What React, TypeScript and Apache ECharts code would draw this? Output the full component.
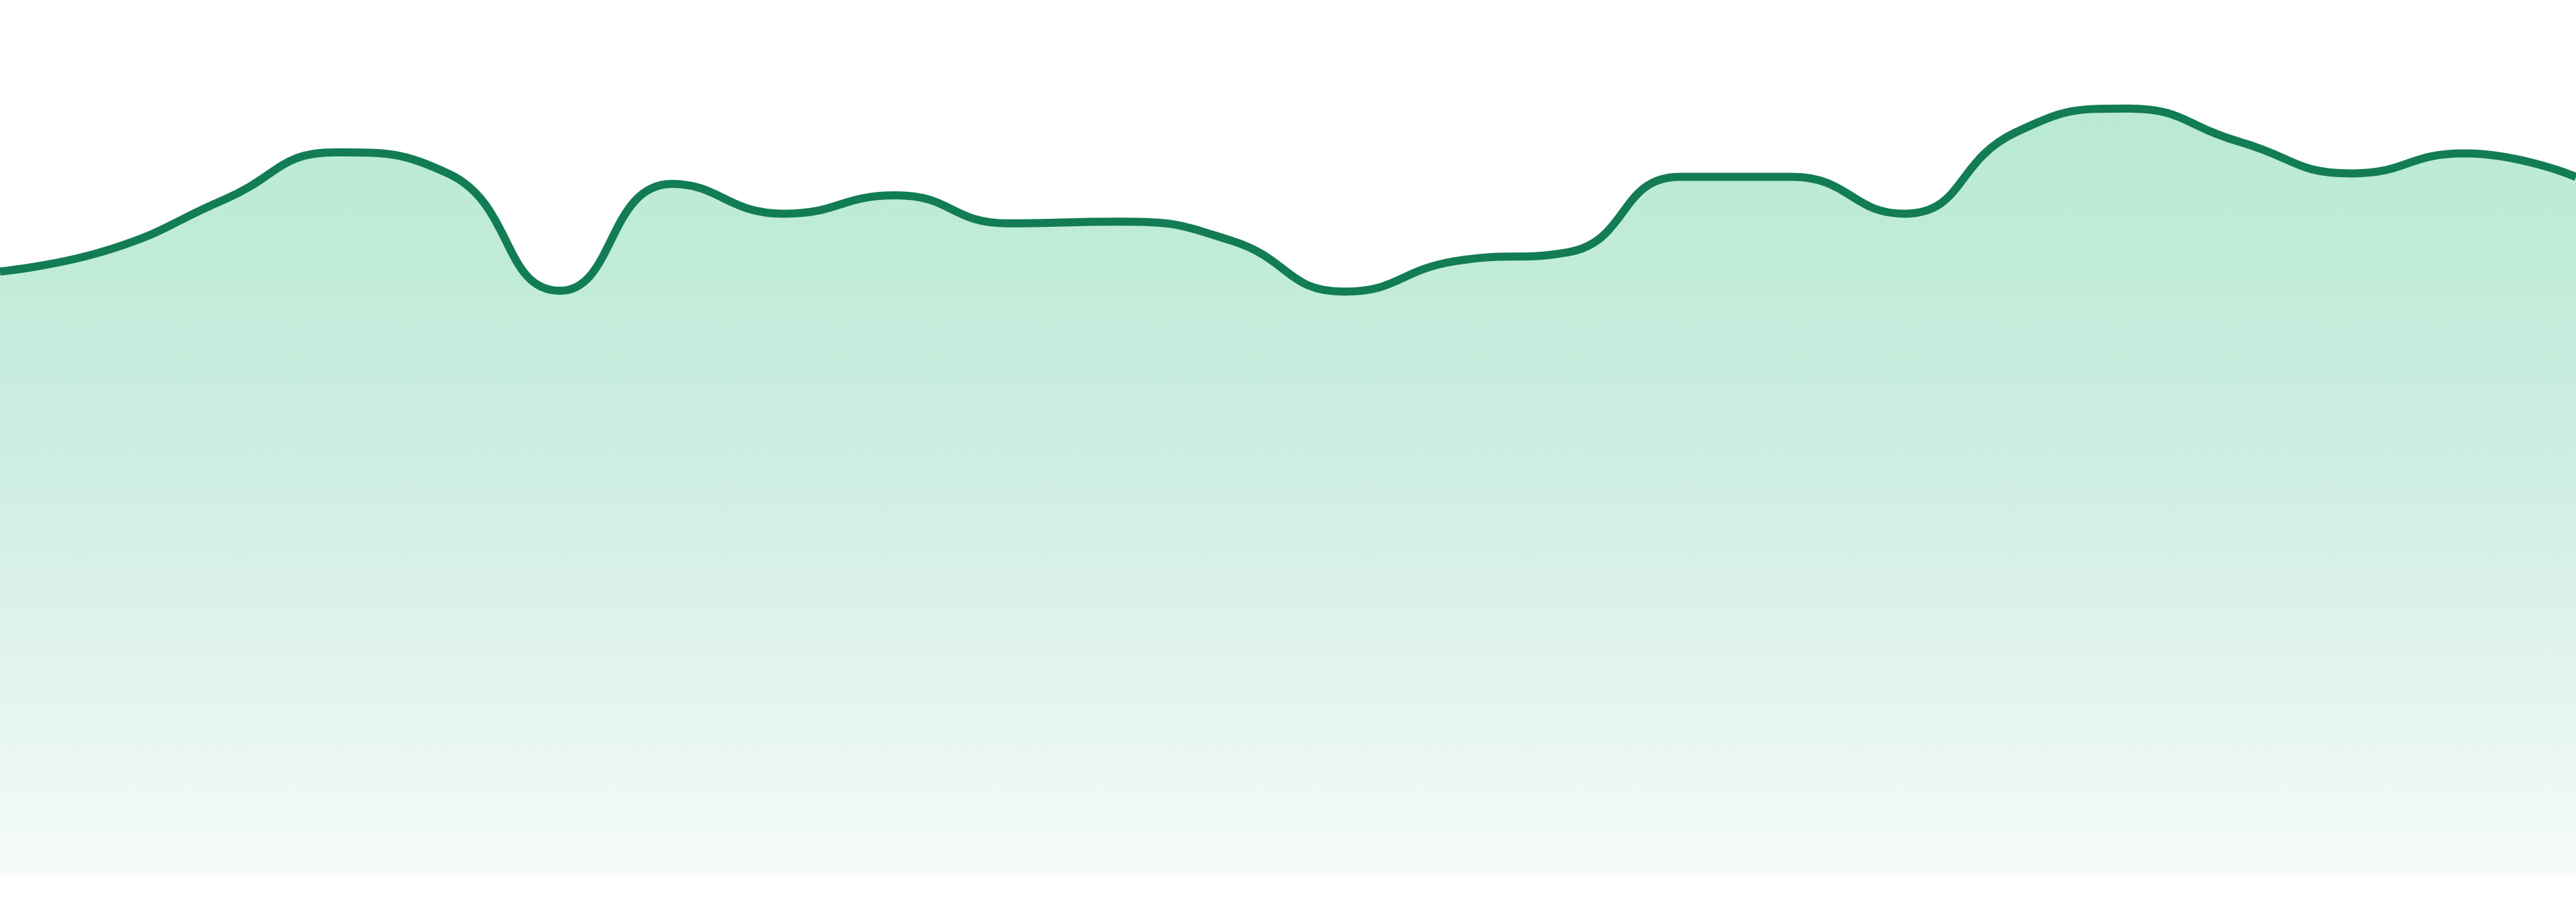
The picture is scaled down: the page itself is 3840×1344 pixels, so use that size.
import {useEffect, useRef} from 'react';
import * as echarts from 'echarts';

// 24 hourly samples
const hours: string[] = [
    '00:00', '01:00', '02:00', '03:00', '04:00', '05:00', '06:00', '07:00',
    '08:00', '09:00', '10:00', '11:00', '12:00', '13:00', '14:00', '15:00',
    '16:00', '17:00', '18:00', '19:00', '20:00', '21:00', '22:00', '23:00'
];
const values: number[] = [
    69.0, 71.6, 77.2, 82.6, 80.2, 66.8, 79.0, 75.6,
    77.7, 74.5, 74.7, 72.5, 66.7, 70.2, 71.2, 79.8,
    79.8, 75.6, 84.9, 87.6, 83.8, 80.2, 82.5, 79.8
];
const yMin = 0;
const yMax = 100;

const LINE_COLOR = '#127c55';

export default function App() {
    const ref = useRef<HTMLDivElement | null>(null);

    useEffect(() => {
        document.body.style.margin = '0';
        if (!ref.current) return;
        const chart = echarts.init(ref.current, undefined, {renderer: 'svg'});
        chart.setOption({
            animation: false,
            backgroundColor: '#ffffff',
            grid: {left: 0, right: 0, top: 0, bottom: 39, containLabel: false},
            tooltip: {show: false},
            xAxis: {
                type: 'category',
                data: hours,
                boundaryGap: false,
                show: false
            },
            yAxis: {
                type: 'value',
                min: yMin,
                max: yMax,
                show: false
            },
            series: [
                {
                    type: 'line',
                    data: values,
                    smooth: true,
                    showSymbol: false,
                    lineStyle: {color: LINE_COLOR, width: 12},
                    areaStyle: {
                        opacity: 1,
                        color: new echarts.graphic.LinearGradient(0, 0, 0, 1, [
                            {offset: 0, color: '#b9e9d4'},
                            {offset: 0.12, color: '#bdebd7'},
                            {offset: 0.42, color: '#cbede0'},
                            {offset: 0.82, color: '#e8f6f0'},
                            {offset: 1, color: '#f6fbf9'}
                        ])
                    }
                }
            ]
        });
        const onResize = () => chart.resize();
        window.addEventListener('resize', onResize);
        return () => {
            window.removeEventListener('resize', onResize);
            chart.dispose();
        };
    }, []);

    return (
        <div
            ref={ref}
            style={{position: 'fixed', left: 0, top: 0, width: '100vw', height: '100vh'}}
        />
    );
}
